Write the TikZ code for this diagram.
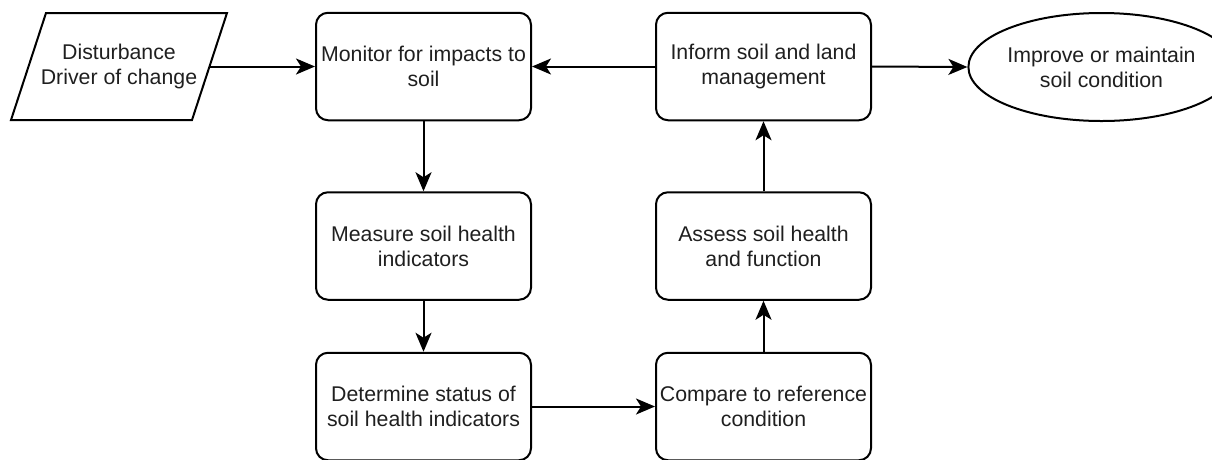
\documentclass[tikz,border=0pt]{standalone}
\usepackage{fontspec}
\setmainfont{Liberation Sans}
\usetikzlibrary{arrows.meta,shapes.geometric}
\begin{document}
\begin{tikzpicture}[x=1pt,y=-1pt,
  every node/.style={font=\fontsize{21.3}{25}\selectfont, align=center, text=black!88},
  stepbox/.style={draw, line width=2pt, rounded corners=12pt, minimum width=215pt, minimum height=107.5pt, inner sep=0pt},
  endell/.style={draw, ellipse, line width=2pt, minimum width=215pt, minimum height=108pt, inner sep=0pt},
  conn/.style={line width=2pt, -{Stealth[length=19pt,width=16pt,inset=5pt]}}
]
\useasboundingbox (0,0) rectangle (1212,459);
% parallelogram
\draw[line width=2pt, line join=miter] (46,13) -- (227,13) -- (192,120) -- (11,120) -- cycle;
\node (para) at (119,66.5) {Disturbance\\Driver of change};
\coordinate (paraE) at (209.5,66.5);

\node[stepbox] (mon) at (423.5,66.5) {Monitor for impacts to\\soil};
\node[stepbox] (inf) at (763.5,66.5) {Inform soil and land\\management};
\node[endell] (imp) at (1101.5,67) {Improve or maintain\\soil condition};
\node[stepbox] (mea) at (423.5,246) {Measure soil health\\indicators};
\node[stepbox] (ass) at (763.5,246) {Assess soil health\\and function};
\node[stepbox] (det) at (423.5,406.5) {Determine status of\\soil health indicators};
\node[stepbox] (com) at (763.5,406.5) {Compare to reference\\condition};

\draw[conn] (paraE) -- (mon.west);
\draw[conn] (inf.west) -- (mon.east);
\draw[conn] (inf.east) -- (imp.west);
\draw[conn] (mon.south) -- (mea.north);
\draw[conn] (mea.south) -- (det.north);
\draw[conn] (det.east) -- (com.west);
\draw[conn] (com.north) -- (ass.south);
\draw[conn] (ass.north) -- (inf.south);
\end{tikzpicture}
\end{document}
